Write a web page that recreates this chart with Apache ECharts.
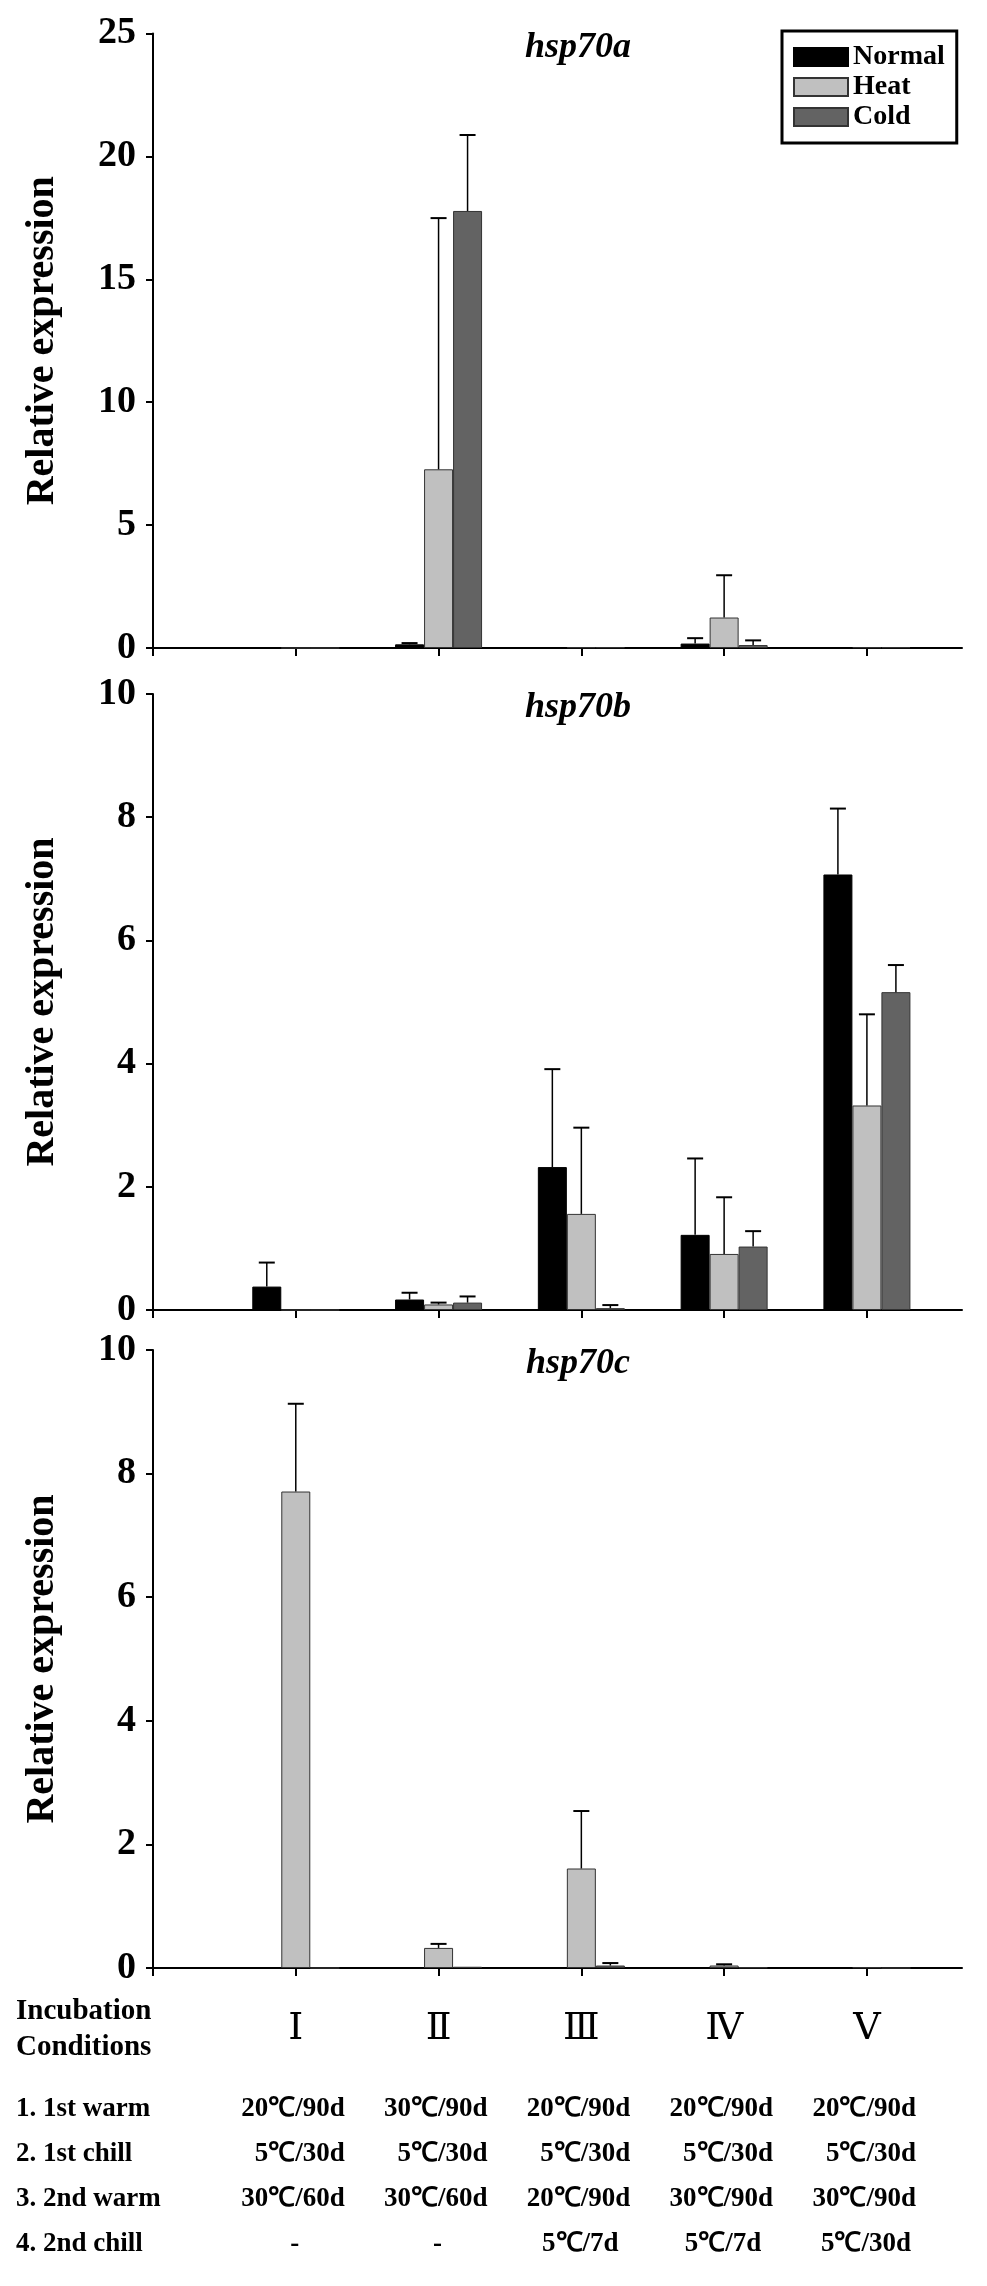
<!DOCTYPE html>
<html>
<head>
<meta charset="utf-8">
<script src="https://cdn.jsdelivr.net/npm/echarts/dist/echarts.min.js"></script>
<style>
html,body{margin:0;padding:0;background:#fff;}
#chart{width:987px;height:2286px;}
</style>
</head>
<body>
<div id="chart"></div>
<script>
// ---------- data ----------
const genes = ['hsp70a', 'hsp70b', 'hsp70c'];
const treatments = ['Normal', 'Heat', 'Cold'];
const positions = [1, 2, 3, 4, 5];
const conditionNumerals = ['Ⅰ', 'Ⅱ', 'Ⅲ', 'Ⅳ', 'Ⅴ'];
const yMax = [25, 10, 10];
const yInterval = [5, 2, 2];

// hsp70a
const aNormal    = [0, 0.15, 0.03, 0.18, 0.03];
const aNormalErr = [0, 0.05, 0, 0.22, 0];
const aHeat      = [0, 7.27, 0.03, 1.24, 0.03];
const aHeatErr   = [0, 10.22, 0, 1.72, 0];
const aCold      = [0, 17.78, 0.03, 0.12, 0.03];
const aColdErr   = [0, 3.09, 0, 0.19, 0];
// hsp70b
const bNormal    = [0.38, 0.17, 2.32, 1.22, 7.07];
const bNormalErr = [0.39, 0.11, 1.59, 1.24, 1.07];
const bHeat      = [0, 0.09, 1.56, 0.91, 3.32];
const bHeatErr   = [0, 0.03, 1.40, 0.92, 1.48];
const bCold      = [0, 0.12, 0.03, 1.03, 5.16];
const bColdErr   = [0, 0.10, 0.05, 0.25, 0.44];
// hsp70c
const cNormal    = [0, 0.01, 0.01, 0, 0];
const cNormalErr = [0, 0, 0, 0, 0];
const cHeat      = [7.71, 0.325, 1.61, 0.04, 0.01];
const cHeatErr   = [1.42, 0.065, 0.93, 0.02, 0];
const cCold      = [0, 0.02, 0.04, 0.01, 0];
const cColdErr   = [0, 0, 0.04, 0, 0];

const conditionRowLabels = ['1. 1st warm', '2. 1st chill', '3. 2nd warm', '4. 2nd chill'];
const row1stWarm  = ['20℃/90d', '30℃/90d', '20℃/90d', '20℃/90d', '20℃/90d'];
const row1stChill = ['5℃/30d', '5℃/30d', '5℃/30d', '5℃/30d', '5℃/30d'];
const row2ndWarm  = ['30℃/60d', '30℃/60d', '20℃/90d', '30℃/90d', '30℃/90d'];
const row2ndChill = ['-', '-', '5℃/7d', '5℃/7d', '5℃/30d'];

// ---------- build ----------
const values = [[aNormal, aHeat, aCold], [bNormal, bHeat, bCold], [cNormal, cHeat, cCold]];
const errors = [[aNormalErr, aHeatErr, aColdErr], [bNormalErr, bHeatErr, bColdErr], [cNormalErr, cHeatErr, cColdErr]];
const conditionRows = [row1stWarm, row1stChill, row2ndWarm, row2ndChill];

const FONT = "'Liberation Serif', 'Times New Roman', serif";
const NUM_FONT = "'DejaVu Serif', 'Noto Serif CJK SC', 'Liberation Serif', serif";
const colors = ['#000000', '#c0c0c0', '#636363'];
const borders = ['#000000', '#333333', '#333333'];
const BAR_W = 29;

const gridBoxes = [
  {left: 153, top: 33.5, width: 809, height: 614.5},
  {left: 153, top: 694, width: 809, height: 616},
  {left: 153, top: 1350, width: 809, height: 618}
];

const xAxes = [], yAxes = [], series = [];
gridBoxes.forEach((g, i) => {
  xAxes.push({
    type: 'value', gridIndex: i, min: 0, max: 5.666, interval: 1,
    axisLine: {show: true, onZero: false, lineStyle: {color: '#000', width: 2}},
    axisTick: {show: true, length: 8, customValues: [0, 1, 2, 3, 4, 5], lineStyle: {color: '#000', width: 2}},
    axisLabel: {
      show: i === 2, customValues: [1, 2, 3, 4, 5],
      formatter: v => conditionNumerals[Math.round(v) - 1] || '',
      margin: 42, fontSize: 38, fontFamily: NUM_FONT, color: '#000'
    },
    splitLine: {show: false}
  });
  yAxes.push({
    type: 'value', gridIndex: i, min: 0, max: yMax[i], interval: yInterval[i],
    name: 'Relative expression', nameLocation: 'middle', nameGap: 90,
    nameTextStyle: {fontSize: 40, fontWeight: 'bold', fontFamily: FONT, color: '#000'},
    axisLine: {show: true, onZero: false, lineStyle: {color: '#000', width: 2}},
    axisTick: {show: true, length: 7, lineStyle: {color: '#000', width: 2}},
    axisLabel: {fontSize: 38, fontWeight: 'bold', fontFamily: FONT, color: '#000', margin: 17},
    splitLine: {show: false}
  });
  treatments.forEach((t, j) => {
    series.push({
      type: 'bar', name: t, xAxisIndex: i, yAxisIndex: i,
      data: positions.map((p, k) => [p, values[i][j][k]]),
      barWidth: BAR_W, barGap: '0%',
      itemStyle: {color: colors[j], borderColor: borders[j], borderWidth: 1},
      emphasis: {disabled: true}, silent: true, z: 2
    });
  });
  treatments.forEach((t, j) => {
    series.push({
      type: 'custom', xAxisIndex: i, yAxisIndex: i, silent: true, z: 3,
      data: positions.map((p, k) => [p, values[i][j][k], errors[i][j][k], j]),
      renderItem: (params, api) => {
        const x = api.value(0), y = api.value(1), e = api.value(2), jj = api.value(3);
        if (!(e > 0)) return null;
        const base = api.coord([x, y]);
        const top = api.coord([x, y + e]);
        const cx = base[0] + (jj - 1) * BAR_W;
        return {
          type: 'group',
          children: [
            {type: 'line', shape: {x1: cx, y1: base[1], x2: cx, y2: top[1]}, style: {stroke: '#000', lineWidth: 1.5}},
            {type: 'line', shape: {x1: cx - 8, y1: top[1], x2: cx + 8, y2: top[1]}, style: {stroke: '#000', lineWidth: 2}}
          ]
        };
      }
    });
  });
});

const chart = echarts.init(document.getElementById('chart'), null, {renderer: 'canvas'});
chart.setOption({
  animation: false,
  backgroundColor: '#fff',
  grid: gridBoxes.map(g => Object.assign({containLabel: false}, g)),
  xAxis: xAxes,
  yAxis: yAxes,
  legend: {
    data: treatments, orient: 'vertical', left: 782, top: 31,
    padding: [12, 12, 12, 11], itemGap: 2, itemWidth: 54, itemHeight: 18,
    icon: 'rect', borderColor: '#000', borderWidth: 3, selectedMode: false,
    textStyle: {fontSize: 28, fontWeight: 'bold', fontFamily: FONT, color: '#000'}
  },
  series: series
});

// gene titles + condition table, positioned via the axis scale
const graphics = [];
gridBoxes.forEach((g, i) => {
  graphics.push({
    type: 'text', x: 578, y: g.top + 14,
    style: {text: genes[i], fontSize: 36, fontWeight: 'bold', fontStyle: 'italic', fontFamily: FONT,
      fill: '#000', align: 'center', verticalAlign: 'middle'}
  });
});
graphics.push({type: 'text', x: 16, y: 2012, style: {text: 'Incubation', fontSize: 29, fontWeight: 'bold', fontFamily: FONT, fill: '#000', align: 'left', verticalAlign: 'middle'}});
graphics.push({type: 'text', x: 16, y: 2048, style: {text: 'Conditions', fontSize: 29, fontWeight: 'bold', fontFamily: FONT, fill: '#000', align: 'left', verticalAlign: 'middle'}});
const rowY = [2109, 2154, 2199, 2244];
conditionRowLabels.forEach((lab, r) => {
  graphics.push({type: 'text', x: 16, y: rowY[r], style: {text: lab, fontSize: 27, fontWeight: 'bold', fontFamily: FONT, fill: '#000', align: 'left', verticalAlign: 'middle'}});
  conditionRows[r].forEach((txt, k) => {
    const px = chart.convertToPixel({xAxisIndex: 2}, positions[k]);
    const right = r < 3;
    graphics.push({type: 'text', x: right ? px + 49 : px - 1, y: rowY[r],
      style: {text: txt, fontSize: 27, fontWeight: 'bold', fontFamily: FONT, fill: '#000', align: right ? 'right' : 'center', verticalAlign: 'middle'}});
  });
});
chart.setOption({graphic: graphics});
</script>
</body>
</html>
